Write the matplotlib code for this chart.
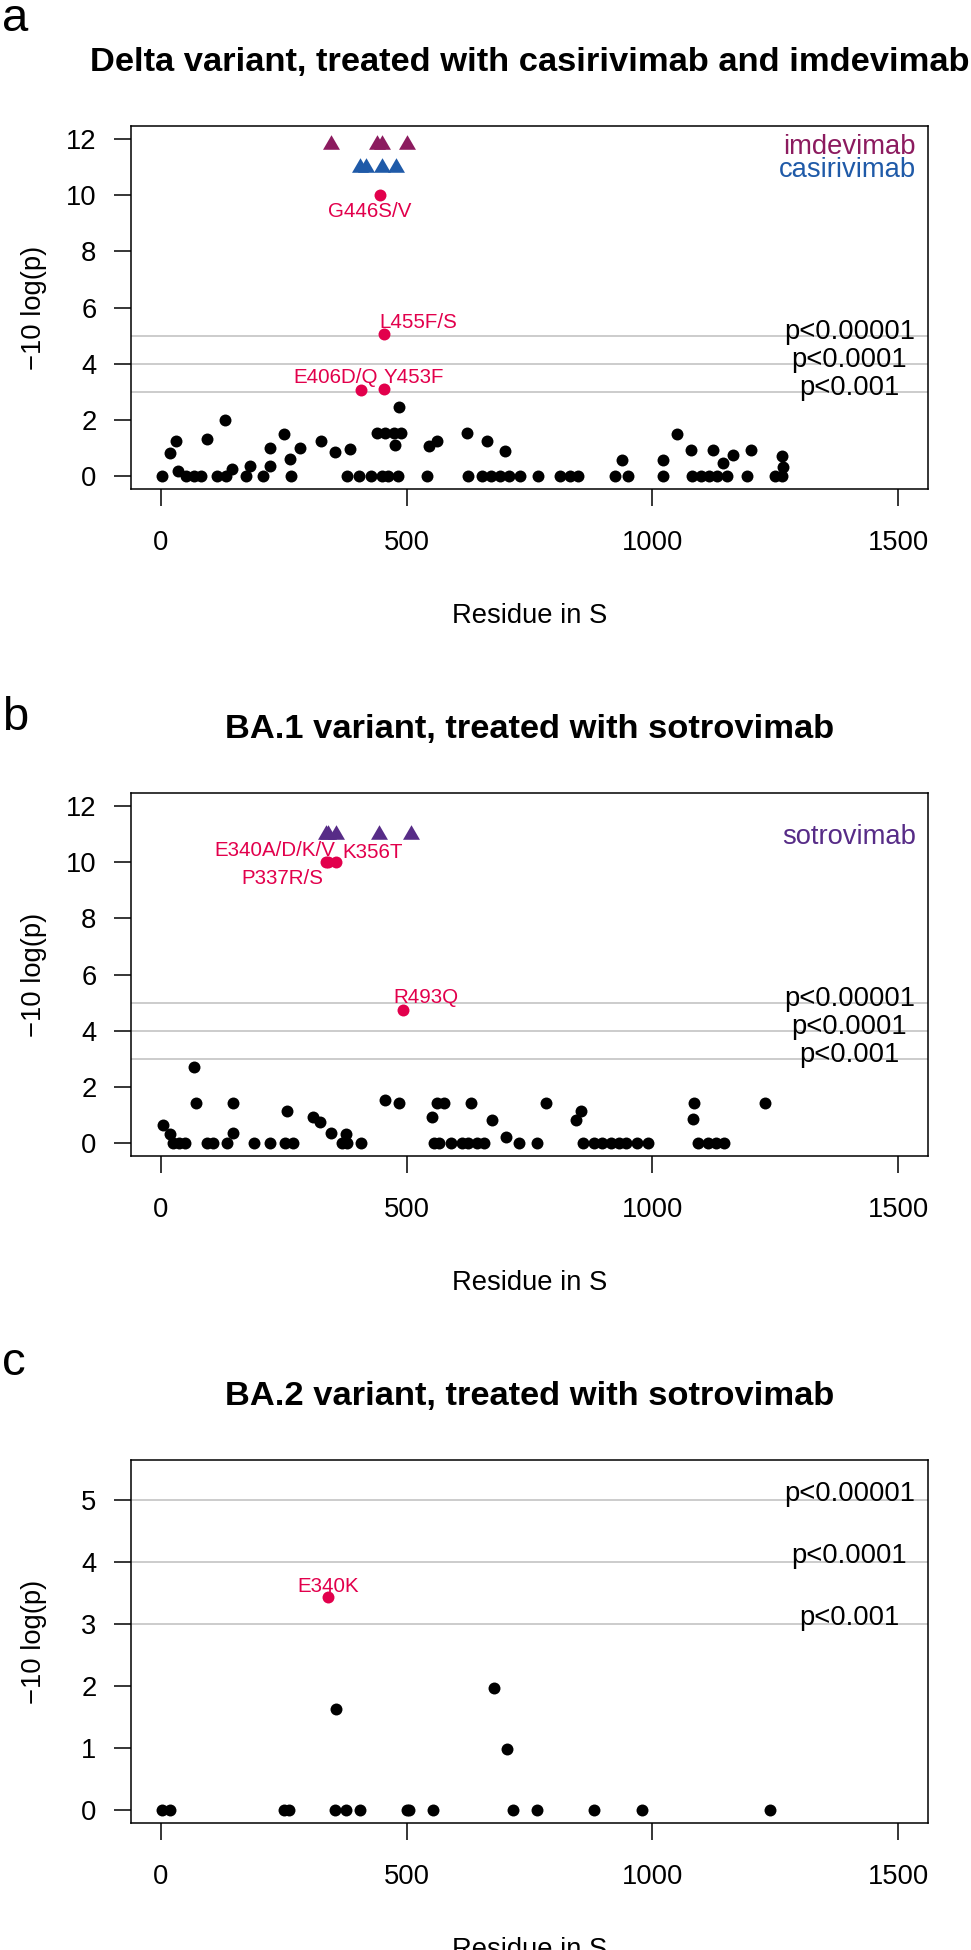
import matplotlib
matplotlib.use("Agg")
import matplotlib.pyplot as plt
from matplotlib.path import Path

plt.rcParams['font.family'] = ['Liberation Sans', 'DejaVu Sans']

# ------------------------- data -------------------------
titles = ["Delta variant, treated with casirivimab and imdevimab",
          "BA.1 variant, treated with sotrovimab",
          "BA.2 variant, treated with sotrovimab"]
panel_letters = ["a", "b", "c"]

x_ticks = [0, 500, 1000, 1500]
y_ticks_ab = [0, 2, 4, 6, 8, 10, 12]
y_ticks_c = [0, 1, 2, 3, 4, 5]

thr_values = [5, 4, 3]
thr_labels = ["p<0.00001", "p<0.0001", "p<0.001"]
thr_label_x = 1400

# panel a (Delta)
a_bg_x = [4, 52, 68, 82, 114, 134, 173, 208, 265, 380, 404, 428, 450, 463, 483,
          541, 625, 654, 672, 690, 708, 730, 767, 813, 832, 848, 923, 951, 1022,
          1081, 1098, 1115, 1132, 1152, 1192, 1248, 1263,
          36, 146, 182, 223, 263, 20, 31, 95, 132, 222, 251, 283, 327, 355, 386,
          440, 457, 474, 488, 476, 485, 545, 561, 622, 663, 700, 939, 1022, 1050,
          1078, 1122, 1143, 1163, 1200, 1263, 1265]
a_bg_y = [0] * 37 + [
          0.15, 0.22, 0.35, 0.35, 0.58, 0.81, 1.24, 1.29, 2.0, 0.99, 1.5, 0.99, 1.25, 0.85, 0.95,
          1.52, 1.52, 1.52, 1.52, 1.1, 2.45, 1.05, 1.23, 1.52, 1.23, 0.87, 0.57, 0.54, 1.5,
          0.93, 0.93, 0.45, 0.75, 0.93, 0.71, 0.3]
a_hit_x = [446, 455, 407, 454]
a_hit_y = [10.0, 5.06, 3.05, 3.1]
a_hit_lab = ["G446S/V", "L455F/S", "E406D/Q", "Y453F"]
a_imdevimab_x = [346, 440, 450, 500]
a_imdevimab_y = [11.9, 11.9, 11.9, 11.9]
a_casirivimab_x = [405, 418, 451, 478]
a_casirivimab_y = [11.1, 11.1, 11.1, 11.1]

# panel b (BA.1)
b_bg_x = [26, 38, 50, 95, 107, 136, 189, 223, 253, 269, 369, 379, 408, 556, 566,
          590, 613, 624, 644, 658, 729, 765, 859, 881, 898, 915, 932, 946, 969,
          990, 1092, 1112, 1129, 1146,
          5, 19, 147, 378, 68, 72, 148, 258, 310, 325, 347, 456, 484, 552, 562,
          576, 632, 673, 702, 783, 854, 844, 1085, 1082, 1229]
b_bg_y = [0] * 34 + [
          0.61, 0.31, 0.33, 0.29, 2.69, 1.40, 1.43, 1.14, 0.93, 0.73, 0.33, 1.52, 1.40, 0.93, 1.40,
          1.40, 1.40, 0.81, 0.21, 1.40, 1.13, 0.81, 1.40, 0.83, 1.43]
b_hit_x = [337, 340, 356, 493]
b_hit_y = [10.0, 10.0, 10.0, 4.74]
b_hit_lab = ["P337R/S", "E340A/D/K/V", "K356T", "R493Q"]
b_sotrovimab_x = [337, 340, 356, 444, 509]
b_sotrovimab_y = [11.1, 11.1, 11.1, 11.1, 11.1]

# panel c (BA.2)
c_bg_x = [2, 19, 251, 262, 354, 376, 405, 500, 505, 554, 716, 765, 882, 979, 1239,
          356, 678, 705]
c_bg_y = [0] * 15 + [1.63, 1.96, 0.98]
c_hit_x = [340]
c_hit_y = [3.43]
c_hit_lab = ["E340K"]

# ------------------------- style -------------------------
RED = "#E2004C"
IMDE = "#8C1B5F"
CASI = "#1F5AA8"
SOTRO = "#572C87"
GREY = "#BEBEBE"
BASE = 19.7
# label offsets (points) relative to their point
a_lab_off = [(-7.2, -15.6), (24.7, 4.3), (-17.8, 4.8), (21.4, 4.3)]
b_lab_off = [(-31.5, -15.3), (-38.4, 4.8), (26.9, 3.1), (16.6, 4.8)]
c_lab_off = [(0, 3.6)]

W, H = 971, 1950
fig = plt.figure(figsize=(W / 100, H / 100), dpi=100)

ax_left, ax_w, ax_h = 131, 797, 363
ax_tops = [126, 793, 1460]
letter_base = [31, 730, 1375]   # baseline of panel letters, pixels from top

tri = Path([(0, 0.86), (-1, -0.86), (1, -0.86), (0, 0.86)],
           [Path.MOVETO, Path.LINETO, Path.LINETO, Path.CLOSEPOLY])

panels = [
    dict(bgx=a_bg_x, bgy=a_bg_y, hx=a_hit_x, hy=a_hit_y, hl=a_hit_lab, off=a_lab_off,
         ylim=(-0.48, 12.48), yt=y_ticks_ab, thr_dy=-2.4,
         tris=[(a_imdevimab_x, a_imdevimab_y, IMDE), (a_casirivimab_x, a_casirivimab_y, CASI)],
         legend=[("imdevimab", IMDE, 28), ("casirivimab", CASI, 51)]),
    dict(bgx=b_bg_x, bgy=b_bg_y, hx=b_hit_x, hy=b_hit_y, hl=b_hit_lab, off=b_lab_off,
         ylim=(-0.48, 12.48), yt=y_ticks_ab, thr_dy=-2.4,
         tris=[(b_sotrovimab_x, b_sotrovimab_y, SOTRO)],
         legend=[("sotrovimab", SOTRO, 51)]),
    dict(bgx=c_bg_x, bgy=c_bg_y, hx=c_hit_x, hy=c_hit_y, hl=c_hit_lab, off=c_lab_off,
         ylim=(-0.217, 5.647), yt=y_ticks_c, thr_dy=-0.7,
         tris=[], legend=[]),
]

for i, p in enumerate(panels):
    top = ax_tops[i]
    ax = fig.add_axes([ax_left / W, 1 - (top + ax_h) / H, ax_w / W, ax_h / H])
    ax.set_xlim(-60, 1560)
    ax.set_ylim(*p['ylim'])
    for s in ax.spines.values():
        s.set_linewidth(1.1)
    ax.set_xticks(x_ticks)
    ax.set_yticks(p['yt'])
    ax.set_xticklabels([str(v) for v in x_ticks])
    ax.set_yticklabels([str(v) for v in p['yt']])
    ax.tick_params(axis='both', length=12.2, width=1.1, labelsize=BASE, direction='out')
    ax.tick_params(axis='x', pad=17)
    ax.tick_params(axis='y', pad=12.6)

    for v in thr_values:
        ax.axhline(v, color=GREY, lw=1.1, zorder=1)
    for v, lab in zip(thr_values, thr_labels):
        ax.annotate(lab, (thr_label_x, v), xytext=(0, p['thr_dy']), textcoords='offset points',
                    ha='center', va='baseline', fontsize=BASE, color='black', zorder=3)

    ax.plot(p['bgx'], p['bgy'], 'o', color='black', ms=8.6, mec='none', zorder=4)
    ax.plot(p['hx'], p['hy'], 'o', color=RED, ms=8.6, mec='none', zorder=4)
    for x, y, lab, (dx, dy) in zip(p['hx'], p['hy'], p['hl'], p['off']):
        ax.annotate(lab, (x, y), xytext=(dx, dy), textcoords='offset points',
                    ha='center', va='baseline', fontsize=14.8, color=RED, zorder=5)
    for tx, ty, col in p['tris']:
        ax.plot(tx, ty, linestyle='none', marker=tri, ms=12.2, color=col, mec='none', zorder=4)
    for lab, col, dpx in p['legend']:
        ax.text(0.985, 1 - dpx / ax_h, lab, transform=ax.transAxes, ha='right',
                va='baseline', fontsize=BASE, color=col)

    ax.set_title(titles[i], fontsize=24.8, fontweight='bold', pad=39.6)
    ax.set_xlabel("Residue in S", fontsize=BASE)
    ax.xaxis.set_label_coords(0.5, -0.314)
    ax.set_ylabel("\u221210 log(p)", fontsize=BASE)
    ax.yaxis.set_label_coords(-0.105, 0.5)

    fig.text(2 / W, 1 - letter_base[i] / H, panel_letters[i], fontsize=34, ha='left',
             va='baseline')

fig.savefig("out.png", dpi=100)
